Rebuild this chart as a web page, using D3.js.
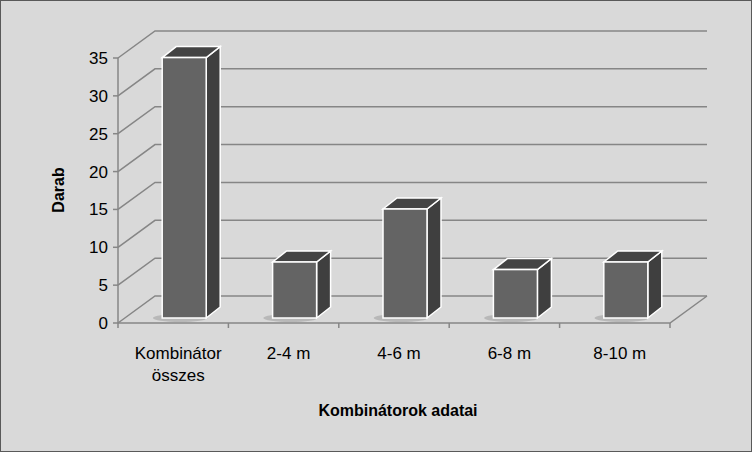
<!DOCTYPE html><html><head><meta charset="utf-8"><script src="https://cdn.jsdelivr.net/npm/d3@7"></script>
<style>body{margin:0}svg{display:block}</style></head><body><svg id="c" width="752" height="452"></svg><script>
const categories=[["Kombinátor","összes"],["2-4 m"],["4-6 m"],["6-8 m"],["8-10 m"]];
const values=[34,7,14,6,7];
const yTicks=[0,5,10,15,20,25,30,35];
const svg=d3.select("#c");
const F="'Liberation Sans',Arial,sans-serif";
svg.append("rect").attr("x",0.5).attr("y",0.5).attr("width",751).attr("height",451).attr("fill","#d9d9d9").attr("stroke","#595959");
const x0=118,x1=670,dx=37,dy=-27;
const y=d3.scaleLinear().domain([0,35]).range([323,58]);
const x=d3.scaleBand().domain(d3.range(values.length)).range([x0,x1]);
const g=svg.append("g");
yTicks.forEach(t=>{
  g.append("path").attr("d",`M${x0},${y(t)}L${x0+dx},${y(t)+dy}L${x1+dx},${y(t)+dy}`).attr("fill","none").attr("stroke","#868686").attr("stroke-width",1.5);
});
g.append("path").attr("d",`M${x0},${y(0)}L${x1},${y(0)}L${x1+dx},${y(0)+dy}`).attr("fill","none").attr("stroke","#868686").attr("stroke-width",1.5);
g.append("line").attr("x1",x0).attr("x2",x0).attr("y1",y(0)).attr("y2",y(35)).attr("stroke","#868686").attr("stroke-width",1.5);
yTicks.forEach(t=>{
  g.append("line").attr("x1",x0-5).attr("x2",x0).attr("y1",y(t)).attr("y2",y(t)).attr("stroke","#868686").attr("stroke-width",1.5);
  g.append("text").attr("x",x0-10).attr("y",y(t)+6).attr("text-anchor","end").attr("font-family",F).attr("font-size",17).text(t);
});
d3.range(values.length+1).forEach(i=>{
  const xx=x0+x.step()*i;
  g.append("line").attr("x1",xx).attr("x2",xx).attr("y1",y(0)).attr("y2",y(0)+5).attr("stroke","#868686").attr("stroke-width",1.5);
});
const bw=44,sx=8,sy=-5,bdx=14,bdy=-11,ext=3;
values.forEach((v,i)=>{
  const cx=x(i)+x.bandwidth()/2+3;
  const l=cx-bw/2+sx,r=l+bw,b=y(0)+sy,t=y(v)+sy-ext;
  g.append("ellipse").attr("cx",l+bw/2-4).attr("cy",b).attr("rx",bw*0.62).attr("ry",4).attr("fill","#888").attr("opacity",0.4);
  g.append("path").attr("d",`M${r},${b}L${r+bdx},${b+bdy}L${r+bdx},${t+bdy}L${r},${t}Z`).attr("fill","#3f3f3f").attr("stroke","#fff").attr("stroke-width",1.5);
  g.append("path").attr("d",`M${l},${t}L${l+bdx},${t+bdy}L${r+bdx},${t+bdy}L${r},${t}Z`).attr("fill","#444").attr("stroke","#fff").attr("stroke-width",1.5);
  g.append("rect").attr("x",l).attr("y",t).attr("width",bw).attr("height",b-t).attr("fill","#646464").attr("stroke","#fff").attr("stroke-width",1.5);
});
categories.forEach((c,i)=>{
  const cx=x(i)+x.bandwidth()/2+5;
  const tx=g.append("text").attr("x",cx).attr("y",359).attr("text-anchor","middle").attr("font-family",F).attr("font-size",17);
  c.forEach((s,j)=>tx.append("tspan").attr("x",cx).attr("dy",j?22:0).text(s));
});
svg.append("text").attr("transform","translate(64,190) rotate(-90)").attr("text-anchor","middle").attr("font-family",F).attr("font-size",16).attr("font-weight","bold").text("Darab");
svg.append("text").attr("x",398).attr("y",416).attr("text-anchor","middle").attr("font-family",F).attr("font-size",16).attr("font-weight","bold").text("Kombinátorok adatai");
</script></body></html>
